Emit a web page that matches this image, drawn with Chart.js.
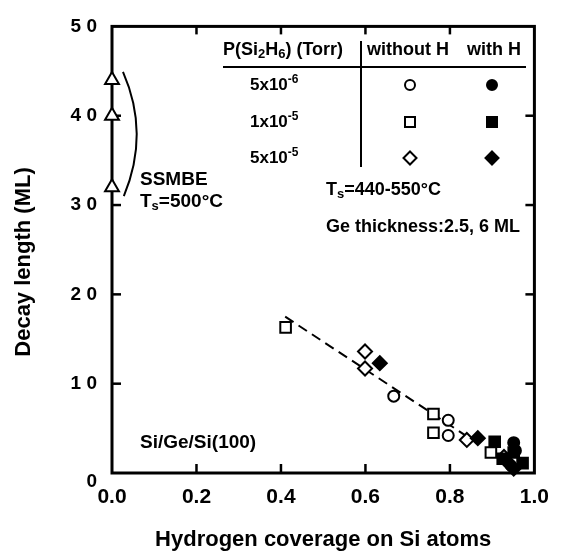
<!DOCTYPE html>
<html>
<head>
<meta charset="utf-8">
<script src="https://cdn.jsdelivr.net/npm/chart.js@4.4.0/dist/chart.umd.min.js"></script>
<style>
    html, body { margin: 0; padding: 0; background: #fff; }
    #wrap { width: 561px; height: 553px; }
</style>
</head>
<body>
<div id="wrap"><canvas id="chart"></canvas></div>
<script>
// Tick values
const xTicks = [0, 0.2, 0.4, 0.6, 0.8, 1.0];
const yTicks = [0, 10, 20, 30, 40, 50];

// SSMBE points (Ts = 500 C) at zero coverage
const ssmbeX = [0, 0, 0];
const ssmbeY = [44, 40, 32];

// without H
const openCircleX = [0.667, 0.796, 0.796];
const openCircleY = [8.6, 5.9, 4.2];
const openSquareX = [0.411, 0.761, 0.761, 0.897];
const openSquareY = [16.3, 6.6, 4.5, 2.3];
const openDiamondX = [0.599, 0.599, 0.840, 0.928];
const openDiamondY = [13.6, 11.7, 3.7, 1.8];

// with H
const fillCircleX = [0.951, 0.955];
const fillCircleY = [3.4, 2.5];
const fillSquareX = [0.906, 0.925, 0.951, 0.972];
const fillSquareY = [3.5, 1.6, 2.3, 1.1];
const fillDiamondX = [0.634, 0.866, 0.937, 0.951];
const fillDiamondY = [12.3, 3.9, 1.2, 0.5];

// dashed guide line
const fitX = [0.41, 0.85];
const fitY = [17.5, 3.8];

const FONT = '"Liberation Sans", Arial, sans-serif';
const pts = (xs, ys) => xs.map((x, i) => ({ x, y: ys[i] }));

function marker(label, xs, ys, style, r, filled) {
    return {
        label,
        data: pts(xs, ys),
        pointStyle: style,
        pointRadius: r,
        pointHoverRadius: r,
        pointBackgroundColor: filled ? '#000' : '#fff',
        pointBorderColor: '#000',
        pointBorderWidth: 2,
        showLine: false,
        clip: false
    };
}

// draw text made of normal / sub (1) / sup (2) parts
function rich(ctx, x, y, parts, size) {
    let cx = x;
    parts.forEach(([t, m]) => {
        const s = m ? Math.round(size * 0.7) : size;
        ctx.font = `bold ${s}px ${FONT}`;
        const dy = m === 1 ? size * 0.22 : m === 2 ? -size * 0.3 : 0;
        ctx.fillText(t, cx, y + dy);
        cx += ctx.measureText(t).width;
    });
}

function symbol(ctx, kind, x, y, filled) {
    ctx.beginPath();
    if (kind === 'circle') ctx.arc(x, y, 5, 0, Math.PI * 2);
    else if (kind === 'rect') ctx.rect(x - 5, y - 5, 10, 10);
    else { ctx.moveTo(x, y - 6.5); ctx.lineTo(x + 6.5, y); ctx.lineTo(x, y + 6.5); ctx.lineTo(x - 6.5, y); ctx.closePath(); }
    ctx.fillStyle = filled ? '#000' : '#fff';
    ctx.fill();
    ctx.lineWidth = 2;
    ctx.stroke();
}

const decor = {
    id: 'decor',
    beforeDatasetsDraw(chart) {
        const { ctx, chartArea: a, scales: { x, y } } = chart;
        const seg = (x1, y1, x2, y2) => { ctx.beginPath(); ctx.moveTo(x1, y1); ctx.lineTo(x2, y2); ctx.stroke(); };
        ctx.save();
        ctx.strokeStyle = '#000';

        // frame
        ctx.lineWidth = 3;
        ctx.strokeRect(a.left, a.top, a.right - a.left, a.bottom - a.top);

        // inward ticks
        ctx.lineWidth = 2.5;
        xTicks.slice(1, -1).forEach(v => {
            const px = x.getPixelForValue(v);
            seg(px, a.bottom, px, a.bottom - 9);
            seg(px, a.top, px, a.top + 8);
        });
        yTicks.slice(1, -1).forEach(v => {
            const py = y.getPixelForValue(v);
            seg(a.left, py, a.left + 9, py);
            seg(a.right, py, a.right - 9, py);
        });
        ctx.restore();
    },
    afterDraw(chart) {
        const { ctx, scales: { x, y } } = chart;
        const seg = (x1, y1, x2, y2) => { ctx.beginPath(); ctx.moveTo(x1, y1); ctx.lineTo(x2, y2); ctx.stroke(); };
        ctx.save();
        ctx.strokeStyle = '#000';
        ctx.fillStyle = '#000';

        // bracket around the SSMBE points
        ctx.lineWidth = 2;
        ctx.beginPath();
        ctx.moveTo(x.getPixelForValue(0.026), y.getPixelForValue(44.9));
        ctx.quadraticCurveTo(x.getPixelForValue(0.09), y.getPixelForValue(38),
            x.getPixelForValue(0.028), y.getPixelForValue(31));
        ctx.stroke();

        ctx.textBaseline = 'middle';
        ctx.textAlign = 'left';
        rich(ctx, 140, 180, [['SSMBE', 0]], 19);
        rich(ctx, 140, 202, [['T', 0], ['s', 1], ['=500°C', 0]], 19);
        rich(ctx, 326, 190, [['T', 0], ['s', 1], ['=440-550°C', 0]], 18);
        rich(ctx, 326, 227, [['Ge thickness:2.5, 6 ML', 0]], 18);
        rich(ctx, 140, 443, [['Si/Ge/Si(100)', 0]], 19);

        // zero label of the y axis sits a little low
        ctx.textAlign = 'right';
        ctx.font = `bold 19px ${FONT}`;
        ctx.fillText('0', 97, 482);

        // y axis title
        ctx.save();
        ctx.translate(24, 262);
        ctx.rotate(-Math.PI / 2);
        ctx.textAlign = 'center';
        ctx.font = `bold 22px ${FONT}`;
        ctx.fillText('Decay length (ML)', 0, 0);
        ctx.restore();

        // legend table
        ctx.textAlign = 'left';
        rich(ctx, 223, 50, [['P(Si', 0], ['2', 1], ['H', 0], ['6', 1], [') (Torr)', 0]], 18);
        rich(ctx, 367, 50, [['without H', 0]], 18);
        rich(ctx, 467, 50, [['with H', 0]], 18);
        ctx.lineWidth = 2;
        seg(223, 67, 526, 67);
        seg(361, 41, 361, 167);
        const rows = [
            [[['5x10', 0], ['-6', 2]], 85, 'circle'],
            [[['1x10', 0], ['-5', 2]], 122, 'rect'],
            [[['5x10', 0], ['-5', 2]], 158, 'rectRot']
        ];
        rows.forEach(([parts, ry, kind]) => {
            ctx.fillStyle = '#000';
            rich(ctx, 250, ry, parts, 17);
            symbol(ctx, kind, 410, ry, false);
            symbol(ctx, kind, 492, ry, true);
        });
        ctx.restore();
    }
};

new Chart(document.getElementById('chart'), {
    type: 'scatter',
    data: {
        datasets: [
            marker('SSMBE', ssmbeX, ssmbeY, 'triangle', 8, false),
            marker('5x10-6 with H', fillCircleX, fillCircleY, 'circle', 5.5, true),
            marker('1x10-5 with H', fillSquareX, fillSquareY, 'rect', 7.5, true),
            marker('5x10-5 with H', fillDiamondX, fillDiamondY, 'rectRot', 7, true),
            marker('5x10-6 without H', openCircleX, openCircleY, 'circle', 5.5, false),
            marker('1x10-5 without H', openSquareX, openSquareY, 'rect', 7.5, false),
            marker('5x10-5 without H', openDiamondX, openDiamondY, 'rectRot', 7, false),
            {
                label: 'fit',
                data: pts(fitX, fitY),
                showLine: true,
                borderColor: '#000',
                borderWidth: 2,
                borderDash: [10, 6],
                pointRadius: 0
            }
        ]
    },
    options: {
        responsive: true,
        maintainAspectRatio: false,
        animation: false,
        layout: { padding: { top: 13, right: 22, left: 0, bottom: 0 } },
        plugins: {
            legend: { display: false },
            tooltip: { enabled: false }
        },
        scales: {
            x: {
                type: 'linear',
                min: 0,
                max: 1,
                afterBuildTicks: s => { s.ticks = xTicks.map(v => ({ value: v })); },
                afterFit: s => { s.height = 80; },
                grid: { display: false, drawTicks: false },
                border: { display: false },
                ticks: {
                    padding: 12,
                    color: '#000',
                    font: { family: FONT, size: 21, weight: 'bold' },
                    callback: v => v.toFixed(1)
                },
                title: {
                    display: true,
                    text: 'Hydrogen coverage on Si atoms',
                    color: '#000',
                    font: { family: FONT, size: 22, weight: 'bold' },
                    padding: { top: 0, bottom: 0 }
                }
            },
            y: {
                type: 'linear',
                min: 0,
                max: 50,
                afterBuildTicks: s => { s.ticks = yTicks.map(v => ({ value: v })); },
                afterFit: s => { s.width = 112; },
                grid: { display: false, drawTicks: false },
                border: { display: false },
                ticks: {
                    padding: 15,
                    color: '#000',
                    font: { family: FONT, size: 19, weight: 'bold' },
                    callback: v => v === 0 ? '' : String(v).split('').join(' ')
                },
                title: { display: false }
            }
        }
    },
    plugins: [decor]
});
</script>
</body>
</html>
